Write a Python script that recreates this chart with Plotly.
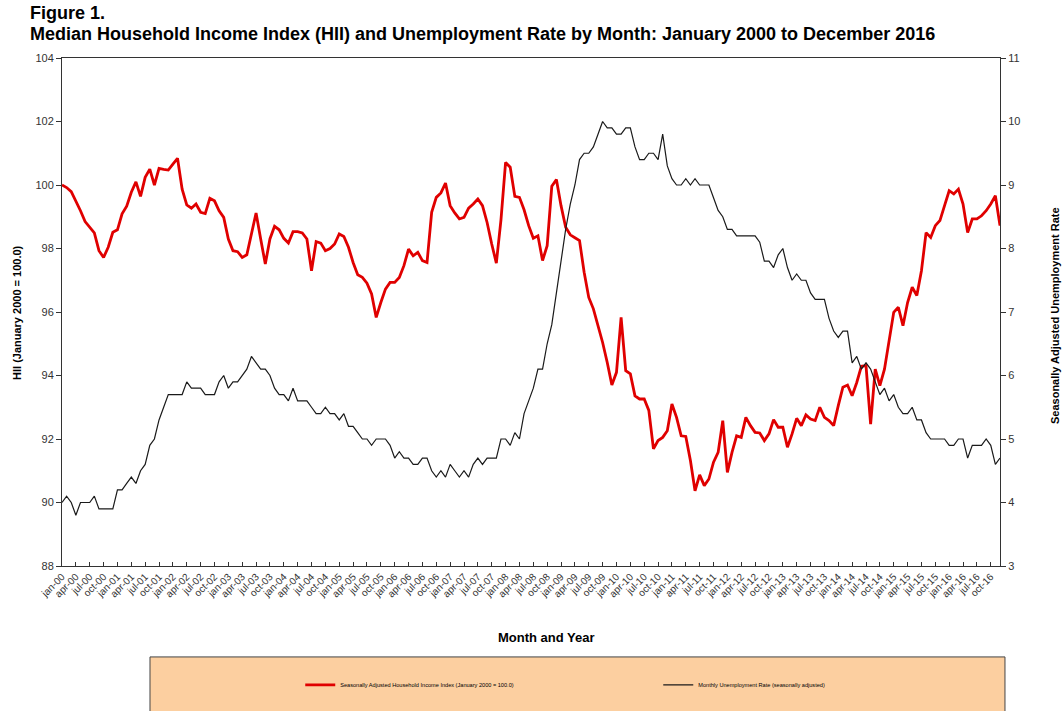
import plotly.graph_objects as go

# ---- data ----
YEARS = list(range(2000, 2017))
MONTH_ABBR = ["jan", "feb", "mar", "apr", "may", "jun", "jul", "aug", "sep", "oct", "nov", "dec"]
months = [f"{m}-{str(y)[2:]}" for y in YEARS for m in MONTH_ABBR]

hii = [
    100.0, 99.92, 99.79, 99.5, 99.19, 98.85, 98.65, 98.49, 97.93, 97.72, 98.04, 98.51,
    98.59, 99.09, 99.33, 99.77, 100.1, 99.64, 100.24, 100.5, 100.0, 100.52, 100.49, 100.47,
    100.66, 100.84, 99.87, 99.37, 99.27, 99.4, 99.14, 99.1, 99.58, 99.5, 99.19, 98.98,
    98.3, 97.93, 97.9, 97.72, 97.8, 98.51, 99.12, 98.3, 97.51, 98.3, 98.7, 98.59,
    98.32, 98.17, 98.53, 98.53, 98.49, 98.3, 97.3, 98.22, 98.17, 97.93, 98.0, 98.14,
    98.46, 98.38, 98.04, 97.56, 97.17, 97.09, 96.91, 96.57, 95.83, 96.3, 96.72, 96.93,
    96.93, 97.09, 97.46, 97.98, 97.77, 97.88, 97.62, 97.56, 99.14, 99.61, 99.75, 100.06,
    99.35, 99.12, 98.93, 98.98, 99.27, 99.4, 99.56, 99.35, 98.82, 98.14, 97.54, 98.9,
    100.71, 100.56, 99.64, 99.61, 99.22, 98.72, 98.32, 98.4, 97.62, 98.09, 99.96, 100.17,
    99.35, 98.67, 98.43, 98.34, 98.25, 97.25, 96.46, 96.1, 95.57, 95.04, 94.41, 93.7,
    94.1, 95.83, 94.15, 94.05, 93.36, 93.26, 93.26, 92.9, 91.69, 91.95, 92.05, 92.26,
    93.1, 92.68, 92.1, 92.08, 91.32, 90.37, 90.87, 90.53, 90.74, 91.27, 91.58, 92.58,
    90.95, 91.58, 92.1, 92.05, 92.68, 92.42, 92.21, 92.19, 91.95, 92.16, 92.61, 92.37,
    92.37, 91.74, 92.16, 92.65, 92.42, 92.76, 92.63, 92.58, 93.0, 92.68, 92.58, 92.42,
    93.05, 93.63, 93.7, 93.36, 93.78, 94.29, 94.31, 92.47, 94.2, 93.68, 94.2, 95.04,
    95.99, 96.15, 95.57, 96.3, 96.78, 96.52, 97.3, 98.5, 98.35, 98.72, 98.88, 99.35,
    99.82, 99.72, 99.87, 99.4, 98.5, 98.93, 98.93, 99.03, 99.19, 99.4, 99.66, 98.72,
]

unemployment = [
    4.0, 4.1, 4.0, 3.8, 4.0, 4.0, 4.0, 4.1, 3.9, 3.9, 3.9, 3.9,
    4.2, 4.2, 4.3, 4.4, 4.3, 4.5, 4.6, 4.9, 5.0, 5.3, 5.5, 5.7,
    5.7, 5.7, 5.7, 5.9, 5.8, 5.8, 5.8, 5.7, 5.7, 5.7, 5.9, 6.0,
    5.8, 5.9, 5.9, 6.0, 6.1, 6.3, 6.2, 6.1, 6.1, 6.0, 5.8, 5.7,
    5.7, 5.6, 5.8, 5.6, 5.6, 5.6, 5.5, 5.4, 5.4, 5.5, 5.4, 5.4,
    5.3, 5.4, 5.2, 5.2, 5.1, 5.0, 5.0, 4.9, 5.0, 5.0, 5.0, 4.9,
    4.7, 4.8, 4.7, 4.7, 4.6, 4.6, 4.7, 4.7, 4.5, 4.4, 4.5, 4.4,
    4.6, 4.5, 4.4, 4.5, 4.4, 4.6, 4.7, 4.6, 4.7, 4.7, 4.7, 5.0,
    5.0, 4.9, 5.1, 5.0, 5.4, 5.6, 5.8, 6.1, 6.1, 6.5, 6.8, 7.3,
    7.8, 8.3, 8.7, 9.0, 9.4, 9.5, 9.5, 9.6, 9.8, 10.0, 9.9, 9.9,
    9.8, 9.8, 9.9, 9.9, 9.6, 9.4, 9.4, 9.5, 9.5, 9.4, 9.8, 9.3,
    9.1, 9.0, 9.0, 9.1, 9.0, 9.1, 9.0, 9.0, 9.0, 8.8, 8.6, 8.5,
    8.3, 8.3, 8.2, 8.2, 8.2, 8.2, 8.2, 8.1, 7.8, 7.8, 7.7, 7.9,
    8.0, 7.7, 7.5, 7.6, 7.5, 7.5, 7.3, 7.2, 7.2, 7.2, 6.9, 6.7,
    6.6, 6.7, 6.7, 6.2, 6.3, 6.1, 6.2, 6.1, 5.9, 5.7, 5.8, 5.6,
    5.7, 5.5, 5.4, 5.4, 5.5, 5.3, 5.3, 5.1, 5.0, 5.0, 5.0, 5.0,
    4.9, 4.9, 5.0, 5.0, 4.7, 4.9, 4.9, 4.9, 5.0, 4.9, 4.6, 4.7,
]

HII_NAME = "Seasonally Adjusted Household Income Index (January 2000 = 100.0)"
UR_NAME = "Monthly Unemployment Rate (seasonally adjusted)"

idx = list(range(len(months)))
tick_idx = idx[::3]
tick_txt = months[::3]

FONT = "Liberation Sans, Arial, sans-serif"
FONT_N = "Liberation Sans Narrow, Liberation Sans, Arial, sans-serif"

fig = go.Figure()
fig.add_trace(go.Scatter(x=idx, y=hii, name=HII_NAME, mode="lines",
                         line=dict(color="#E00000", width=2.8), yaxis="y"))
fig.add_trace(go.Scatter(x=idx, y=unemployment, name=UR_NAME, mode="lines",
                         line=dict(color="#1a1a1a", width=1.2), yaxis="y2"))

fig.update_layout(
    width=1064, height=711,
    margin=dict(l=62, r=64, t=58, b=145, pad=0, autoexpand=False),
    paper_bgcolor="white", plot_bgcolor="white",
    showlegend=True,
    legend=dict(orientation="h", x=0.254, xanchor="left", y=-0.234, yanchor="middle",
                bgcolor="rgba(0,0,0,0)", font=dict(family=FONT, size=5.6, color="#000"),
                entrywidth=313, entrywidthmode="pixels", itemwidth=30, tracegroupgap=0),
    xaxis=dict(range=[0, len(months) - 1], tickmode="array", tickvals=tick_idx, ticktext=tick_txt,
               tickangle=-45, tickfont=dict(family=FONT, size=10, color="#333"),
               showgrid=False, zeroline=False, showline=True, linecolor="#333", linewidth=1,
               mirror=True, ticks="inside", ticklen=4, tickcolor="#333"),
    yaxis=dict(range=[88, 104], dtick=2, tick0=88, showgrid=False, zeroline=False,
               showline=True, linecolor="#333", linewidth=1, ticks="outside", ticklen=5,
               tickcolor="#333", tickfont=dict(family=FONT, size=11, color="#333")),
    yaxis2=dict(range=[3, 11], dtick=1, tick0=3, overlaying="y", side="right",
                showgrid=False, zeroline=False, showline=True, linecolor="#333", linewidth=1,
                ticks="outside", ticklen=5, tickcolor="#333",
                tickfont=dict(family=FONT, size=11, color="#333")),
    shapes=[dict(type="rect", xref="paper", yref="paper", x0=0.0938, x1=1.0053,
                 y0=-0.31, y1=-0.179, fillcolor="#FCCFA0", line=dict(color="#444", width=1),
                 layer="below")],
    annotations=[
        dict(text="<b>Figure 1.</b>", xref="paper", yref="paper", x=-0.0362, y=1.112,
             xanchor="left", yanchor="top", showarrow=False,
             font=dict(family=FONT_N, size=18, color="#000")),
        dict(text="<b>Median Household Income Index (HII) and Unemployment Rate by Month: January 2000 to December 2016</b>",
             xref="paper", yref="paper", x=-0.0362, y=1.071, xanchor="left", yanchor="top",
             showarrow=False, font=dict(family=FONT_N, size=18, color="#000")),
        dict(text="<b>HII (January 2000 = 100.0)</b>", xref="paper", yref="paper", x=-0.048, y=0.5,
             textangle=-90, showarrow=False, xanchor="center", yanchor="middle",
             font=dict(family=FONT, size=11, color="#000")),
        dict(text="<b>Seasonally Adjusted Unemployment Rate</b>", xref="paper", yref="paper",
             x=1.0586, y=0.494, textangle=-90, showarrow=False, xanchor="center", yanchor="middle",
             font=dict(family=FONT, size=11, color="#000")),
        dict(text="<b>Month and Year</b>", xref="paper", yref="paper", x=0.517, y=-0.14,
             showarrow=False, xanchor="center", yanchor="middle",
             font=dict(family=FONT, size=13, color="#000")),
    ],
)

fig.write_html("out.html", config={"displayModeBar": False},
               post_script="document.body.style.margin='0';document.body.style.overflow='hidden';")
